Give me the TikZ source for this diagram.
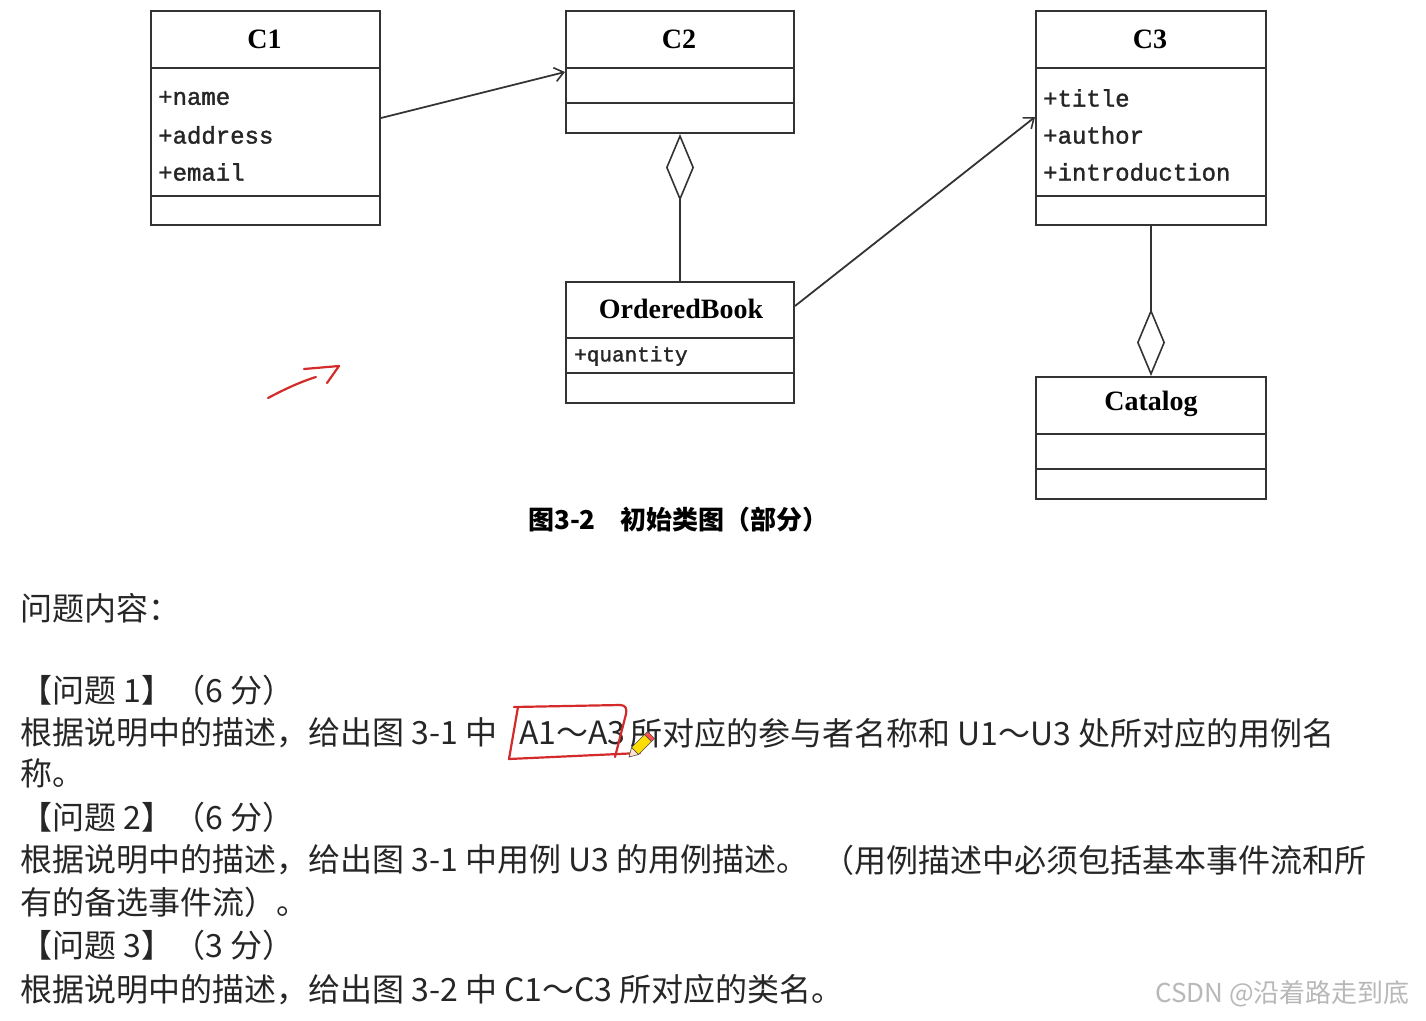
\documentclass[tikz,border=0pt]{standalone}
\usepackage{fontspec}
\setmainfont{Liberation Serif}
\newfontfamily\cjk{Noto Sans CJK SC}
\newfontfamily\monof[BoldFont={Liberation Mono},BoldFeatures={FakeBold=1.5}]{Liberation Mono}
\usetikzlibrary{arrows.meta,calc}
\definecolor{boxc}{HTML}{333333}
\definecolor{txt}{HTML}{262626}
\definecolor{redpen}{HTML}{D42A2A}
\definecolor{wm}{HTML}{B8B8B8}
\tikzset{
  classbox/.style={draw=boxc, line width=2pt, fill=white, inner sep=0pt, anchor=north west},
  ctitle/.style={font=\bfseries\fontsize{28}{30}\selectfont, inner sep=0pt, text=black},
  attr/.style={font=\monof\bfseries\fontsize{24}{26}\selectfont, anchor=west, inner sep=0pt, text=txt},
  smallattr/.style={font=\monof\bfseries\fontsize{21}{23}\selectfont, anchor=west, inner sep=0pt, text=txt},
  sepline/.style={draw=boxc, line width=2pt},
  conn/.style={draw=boxc, line width=1.8pt},
  navarrow/.style={-{Straight Barb[length=9pt,width=14pt,line width=1.6pt]}},
  aggr/.style={-{Diamond[open,length=67pt,width=28pt,line width=1.6pt]}},
  body/.style={font=\cjk\fontsize{32}{36}\selectfont, anchor=west, inner sep=0pt, text=txt},
  caption/.style={font=\cjk\bfseries\fontsize{26}{30}\selectfont, anchor=west, inner sep=0pt, text=black},
  redstroke/.style={draw=redpen, line width=2.2pt, line cap=round, line join=round},
}
\begin{document}
\begin{tikzpicture}[x=1pt,y=-1pt]
\useasboundingbox[fill=white] (0,0) rectangle (1426,1020);

% ---- C1
\node[classbox, minimum width=229pt, minimum height=214pt] (c1) at (150,10) {};
\draw[sepline] (150,68) -- (379,68);
\draw[sepline] (150,196) -- (379,196);
\node[ctitle] (c1t) at (264.5,39) {C1};
\node[attr] (c1a) at (158,98) {+name};
\node[attr] (c1b) at (158,135) {+address};
\node[attr] (c1c) at (158,172) {+email};

% ---- C2
\node[classbox, minimum width=228pt, minimum height=122pt] (c2) at (565,10) {};
\draw[sepline] (565,68) -- (793,68);
\draw[sepline] (565,103) -- (793,103);
\node[ctitle] (c2t) at (679,39) {C2};

% ---- C3
\node[classbox, minimum width=230pt, minimum height=214pt] (c3) at (1035,10) {};
\draw[sepline] (1035,68) -- (1265,68);
\draw[sepline] (1035,196) -- (1265,196);
\node[ctitle] (c3t) at (1150,39) {C3};
\node[attr] (c3a) at (1043,98) {+title};
\node[attr] (c3b) at (1043,135) {+author};
\node[attr] (c3c) at (1043,172) {+introduction};

% ---- OrderedBook
\node[classbox, minimum width=228pt, minimum height=121pt] (ob) at (565,281) {};
\draw[sepline] (565,338) -- (793,338);
\draw[sepline] (565,373) -- (793,373);
\node[ctitle] (obt) at (681,309) {OrderedBook};
\node[smallattr] (oba) at (574,356) {+quantity};

% ---- Catalog
\node[classbox, minimum width=230pt, minimum height=122pt] (cat) at (1035,376) {};
\draw[sepline] (1035,434) -- (1265,434);
\draw[sepline] (1035,469) -- (1265,469);
\node[ctitle] (catt) at (1151,404) {Catalog};

% ---- connectors
\draw[conn, navarrow] (c1.east) -- (c2.west);
\draw[conn, navarrow] ([yshift=-25pt]ob.north east) -- ([yshift=1pt]c3.west);
\draw[conn, aggr] (ob.north) -- (c2.south);
\draw[conn, aggr] (c3.south) -- (cat.north);

% ---- red hand-drawn arrow
\draw[redstroke] (268,398) .. controls (285,389) and (300,382) .. (316,377);
\draw[redstroke] (304,369) -- (339,366) -- (327,383);

% ---- caption
\node[caption] (cap1) at (528,520) {图3-2};
\node[caption] (cap2) at (620,520) {初始类图（部分）};

% ---- question text
\node[body] (q0) at (20,608) {问题内容：};
\node[body] (q1h) at (20,690) {【问题 1】（6 分）};
\node[body] (q1a) at (20,733) {根据说明中的描述，给出图 3-1 中};
\node[body] (q1b) at (519,733) {A1～A3};
\node[body] (q1c) at (630,733) {所对应的参与者名称和 U1～U3 处所对应的用例名};
\node[body] (q1d) at (20,773) {称。};
\node[body] (q2h) at (20,817) {【问题 2】（6 分）};
\node[body] (q2a) at (20,860) {根据说明中的描述，给出图 3-1 中用例 U3 的用例描述。};
\node[body] (q2c) at (822,860) {（用例描述中必须包括基本事件流和所};
\node[body] (q2b) at (20,902) {有的备选事件流）。};
\node[body] (q3h) at (20,945) {【问题 3】（3 分）};
\node[body] (q3a) at (20,990) {根据说明中的描述，给出图 3-2 中 C1～C3 所对应的类名。};

% ---- red box around A1~A3
\draw[redstroke] (514,707) -- (620,705) .. controls (626,705) and (627,709) .. (626,714) -- (615,757);
\draw[redstroke] (518,707) -- (509,759) -- (640,753);

% ---- pencil icon
\fill[yellow!80!orange, draw=black!70, line width=0.6pt] (638.5,754.5) -- (631.5,747.5) -- (644.5,734.5) -- (651.5,741.5) -- cycle;
\fill[red!70, draw=black!70, line width=0.6pt] (651.5,741.5) -- (644.5,734.5) -- (647.5,731.5) -- (654.5,738.5) -- cycle;
\fill[orange!20, draw=black!70, line width=0.6pt] (638.5,754.5) -- (631.5,747.5) -- (629,757) -- cycle;

% ---- watermark
\node[font=\cjk\fontsize{26}{30}\selectfont, text=wm, anchor=west, inner sep=0pt] (wmk) at (1155,994) {CSDN @沿着路走到底};
\end{tikzpicture}
\end{document}
